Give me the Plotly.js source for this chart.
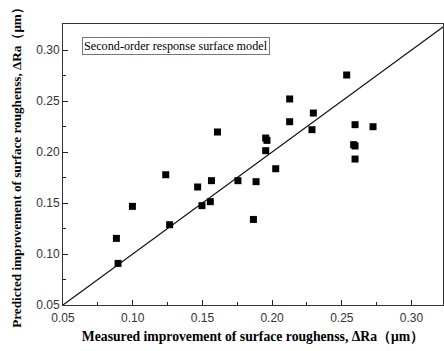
<!DOCTYPE html>
<html>
<head>
<meta charset="utf-8">
<script src="https://cdn.plot.ly/plotly-3.0.1.min.js"></script>
<style>html,body{margin:0;padding:0;background:#fff;}#chart{width:444px;height:351px;}</style>
</head>
<body>
<div id="chart"></div>
<script>
const measured = [0.0883, 0.0895, 0.0998, 0.1237, 0.1265, 0.1466, 0.1497, 0.1565, 0.1557, 0.1608,
  0.1755, 0.1885, 0.1866, 0.1954, 0.1963, 0.1954, 0.2026, 0.2126, 0.2126, 0.2296,
  0.2286, 0.2535, 0.2595, 0.2724, 0.2585, 0.2595, 0.2595];
const predicted = [0.1153, 0.0908, 0.1467, 0.1777, 0.1287, 0.1657, 0.1474, 0.1719, 0.1513, 0.2196,
  0.1719, 0.1709, 0.1339, 0.2137, 0.2114, 0.2013, 0.1836, 0.2520, 0.2297, 0.2382,
  0.2219, 0.2755, 0.2268, 0.2248, 0.2072, 0.2059, 0.1931];
const refLineX = [0.05, 0.34];
const refLineY = [0.05, 0.34];
const tickVals = [0.05, 0.10, 0.15, 0.20, 0.25, 0.30];
const tickText = ['0.05', '0.10', '0.15', '0.20', '0.25', '0.30'];
const legendText = 'Second-order response surface model';
const xTitle = 'Measured improvement of surface roughenss, ΔRa（μm）';
const yTitle = 'Predicted improvement of surface roughenss, ΔRa（μm）';

const xTitleFont = {family: 'Liberation Serif, Times New Roman, serif', size: 13.7, color: '#000', weight: 'bold'};
const yTitleFont = {family: 'Liberation Serif, Times New Roman, serif', size: 13.2, color: '#000', weight: 'bold'};
const tickFont = {family: 'Liberation Sans, Arial, sans-serif', size: 12, color: '#333'};

const axisCommon = {
  showgrid: false, zeroline: false, showline: true, linecolor: '#333', linewidth: 1,
  mirror: true, ticks: 'inside', ticklen: 5, tickwidth: 1, tickcolor: '#222',
  tickvals: tickVals, ticktext: tickText, tickfont: tickFont,
  minor: {ticks: 'inside', ticklen: 3, tickwidth: 1, tickcolor: '#222', dtick: 0.025, tick0: 0.05, showgrid: false}
};

const data = [
  {x: refLineX, y: refLineY, mode: 'lines', line: {color: '#111', width: 1.2}, hoverinfo: 'skip', showlegend: false},
  {x: measured, y: predicted, mode: 'markers', marker: {symbol: 'square', size: 7, color: '#000'}, showlegend: false}
];

const layout = {
  width: 444, height: 351,
  margin: {l: 63, r: 1, t: 24, b: 46},
  paper_bgcolor: '#fff', plot_bgcolor: '#fff',
  xaxis: Object.assign({}, axisCommon, {range: [0.05, 0.3226], ticklabelstandoff: 2,
    title: {text: xTitle, font: xTitleFont, standoff: 7}}),
  yaxis: Object.assign({}, axisCommon, {range: [0.05, 0.3255],
    title: {text: yTitle, font: yTitleFont, standoff: 11}}),
  annotations: [{
    text: legendText, xref: 'paper', yref: 'paper', x: (82 - 63) / 380, y: 1 - (37 - 24) / 281,
    xanchor: 'left', yanchor: 'top', showarrow: false,
    font: {family: 'Liberation Serif, Times New Roman, serif', size: 12.2, color: '#000'},
    bordercolor: '#777', borderwidth: 1, borderpad: 1, bgcolor: '#fff'
  }]
};

Plotly.newPlot('chart', data, layout, {displayModeBar: false, staticPlot: true});
</script>
</body>
</html>
